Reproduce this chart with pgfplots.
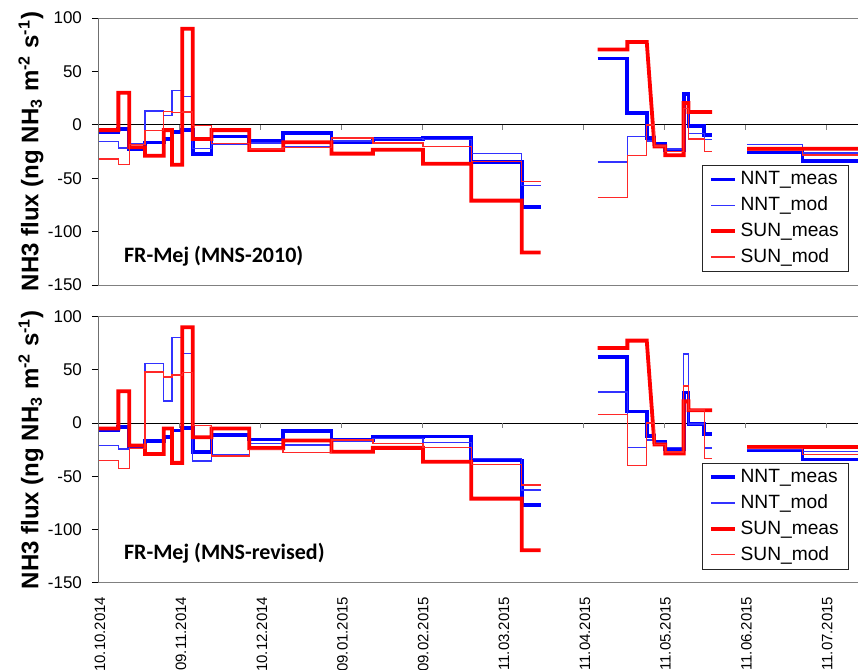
\documentclass[border=0pt]{standalone}
\usepackage{fontspec}
\setmainfont{Liberation Sans}
\newfontfamily\carlito{Carlito}
\usepackage{pgfplots}
\usepackage{pgfplotstable}
\pgfplotsset{compat=1.18}

% measured series (same in both panels)
\pgfplotstableread{
x y
0 -6.8
7.3 -4
11.4 -22.5
17.3 -16.5
24.4 -13.3
27.5 -7
31.4 -4.7
35.3 -27.5
42.4 -11
56.6 -15.5
69.4 -7.7
87.6 -16
103.2 -13.3
122.1 -12.5
140.3 -35.2
159.3 -77
166.4 -77
177 nan
187.9 62
199.1 11
206.4 -12.4
209.3 -18
213.4 -24
220.3 28.8
222.1 -1.2
228.1 -9.9
231 -9.9
238 nan
244.2 -25.8
265.1 -34.2
286 -34.2
}\nntmeas

\pgfplotstableread{
x y
0 -5
7.3 -5
7.3 30
11.4 30
11.4 -21
17.3 -21
17.3 -29
24.4 -29
24.4 -5
27.5 -5
27.5 -37.4
31.4 -37.4
31.4 90
35.3 90
35.3 -13.3
42.4 -13.3
42.4 -5
56.6 -5
56.6 -23.5
69.4 -23.5
69.4 -16.3
87.6 -16.3
87.6 -27
103.2 -27
103.2 -23.3
122.1 -23.3
122.1 -36.4
140.3 -36.4
140.3 -71
159.3 -71
159.3 -119.5
166.4 -119.5
177 nan
187.9 70.5
199.1 70.5
199.1 77.5
206.4 77.5
209.3 -20.2
213.4 -20.2
213.4 -28.5
220.3 -28.5
220.3 20.4
222.1 20.4
222.1 12
231 12
238 nan
244.2 -22.5
286 -22.5
}\sunmeas

% modelled, MNS-2010
\pgfplotstableread{
x y
0 -15.5
7.3 -21.8
11.4 -17.5
17.3 12.8
24.4 8.8
27.5 31.9
31.4 26.3
35.3 -22
42.4 -18.5
56.6 -17
69.4 -20.5
87.6 -15
103.2 -13
122.1 -13.5
140.3 -27
159.3 -57
166.4 -57
177 nan
187.9 -34.7
199.1 -11
206.4 -15
209.3 -20
213.4 -22.5
220.3 15
222.1 -8
228.1 -14
231 -14
238 nan
244.2 -18.3
265.1 -26.4
286 -26.4
}\nntmodA

\pgfplotstableread{
x y
0 -32
7.3 -37.4
11.4 -18.6
17.3 -5.2
24.4 12.6
27.5 11.5
31.4 12
35.3 -0.6
42.4 -17.5
56.6 -22.5
69.4 -21.5
87.6 -12.5
103.2 -17
122.1 -20.2
140.3 -34.3
159.3 -53
166.4 -53
177 nan
187.9 -68
199.1 -29
206.4 0
209.3 -20
213.4 -25
220.3 15
222.1 -13.3
228.1 -25
231 -25
238 nan
244.2 -24
265.1 -28.3
286 -28.3
}\sunmodA

% modelled, MNS-revised
\pgfplotstableread{
x y
0 -21
7.3 -24.5
11.4 -20
17.3 56
24.4 20.7
27.5 80.5
31.4 65.5
35.3 -35.7
42.4 -30
56.6 -19
69.4 -20.4
87.6 -17
103.2 -14.5
122.1 -18.5
140.3 -33.2
159.3 -63
166.4 -63
177 nan
187.9 29.4
199.1 -22.9
206.4 -16
209.3 -18
213.4 -23
220.3 64.8
222.1 -1
228.1 -23.5
231 -23.5
238 nan
244.2 -24.4
265.1 -26.6
286 -26.6
}\nntmodB

\pgfplotstableread{
x y
0 -35.4
7.3 -42.6
11.4 -23.8
17.3 48.2
24.4 43.5
27.5 45.1
31.4 47.3
35.3 -2.5
42.4 -31
56.6 -25
69.4 -27.5
87.6 -16
103.2 -19
122.1 -22.9
140.3 -38.8
159.3 -58.3
166.4 -58.3
177 nan
187.9 8.1
199.1 -40
206.4 0
209.3 -20
213.4 -27
220.3 35
222.1 12.2
228.1 -33.2
231 -33.2
238 nan
244.2 -24
265.1 -29.4
286 -29.4
}\sunmodB

\definecolor{axgray}{RGB}{128,128,128}

\pgfplotsset{
  panel/.style={
    scale only axis, width=379.5pt,
    xmin=0, xmax=286, ymin=-150, ymax=100,
    ytick={-150,-100,-50,0,50,100},
    xtick={0,30.5,61,91.4,121.8,152.2,182.7,213.1,243.6,274},
    axis line style={draw=axgray, line width=0.5pt},
    tick align=outside, ytick pos=left, xtick pos=bottom,
    x tick style={draw=none},
    y tick style={black, line width=0.5pt},
    major tick length=3.5pt,
    yticklabel style={font=\fontsize{8.5}{10}\selectfont, xshift=-1.5pt},
    /pgf/number format/assume math mode=true,
    unbounded coords=jump,
    ylabel={\bfseries NH3 flux (ng NH\textsubscript{3} m\textsuperscript{-2} s\textsuperscript{-1})},
    ylabel style={at={(axis description cs:-0.0896,0.5)}, anchor=center, font=\fontsize{12}{14}\selectfont},
    legend style={at={(0.9885,0.0487)}, anchor=south east, draw=black!85,
      line width=0.5pt, font=\fontsize{9.6}{11.5}\selectfont,
      inner xsep=3pt, inner ysep=1pt, row sep=0.6pt, cells={anchor=west}},
    legend image code/.code={\draw[##1] (0cm,0cm) -- (0.42cm,0cm);},
  },
  measB/.style={line width=1.9pt, line join=miter, draw={rgb,255:red,0;green,0;blue,255}},
  measR/.style={line width=1.9pt, line join=miter, draw={rgb,255:red,255;green,0;blue,0}},
  modB/.style={line width=0.7pt, draw={rgb,255:red,50;green,50;blue,255}},
  modR/.style={line width=0.7pt, draw={rgb,255:red,255;green,40;blue,40}},
}

\begin{document}
\begin{tikzpicture}
\useasboundingbox (-49.5pt,-192.5pt) rectangle (379.5pt,142.5pt);

\begin{axis}[panel, height=133.5pt, at={(0,0)}, anchor=south west, xticklabels={}]
  \draw[black, line width=0.5pt] (axis cs:0,0) -- (axis cs:286,0);
  \pgfplotsinvokeforeach{30.5,61,91.4,121.8,152.2,182.7,213.1,243.6,274}{
    \draw[axgray, line width=0.5pt] (axis cs:#1,0) -- ([yshift=-2.5pt]axis cs:#1,0);
  }
  \addplot[measB, const plot mark left] table[x=x,y=y] {\nntmeas};
  \addplot[modB, const plot mark left] table[x=x,y=y] {\nntmodA};
  \addplot[measR, sharp plot] table[x=x,y=y] {\sunmeas};
  \addplot[modR, const plot mark left] table[x=x,y=y] {\sunmodA};
  \legend{NNT\_meas,NNT\_mod,SUN\_meas,SUN\_mod}
  \draw[black, line width=0.5pt] (rel axis cs:0,0) -- (rel axis cs:0,1);
  \node[anchor=west, font=\carlito\bfseries\fontsize{11}{13}\selectfont] at (rel axis cs:0.0237,0.1086) {FR-Mej (MNS-2010)};
\end{axis}

\begin{axis}[panel, height=133pt, at={(0,-148.85pt)}, anchor=south west,
  xticklabels={10.10.2014,09.11.2014,10.12.2014,09.01.2015,09.02.2015,11.03.2015,11.04.2015,11.05.2015,11.06.2015,11.07.2015},
  xticklabel style={rotate=90, anchor=east, font=\fontsize{7.5}{9}\selectfont, yshift=-0.5pt}]
  \draw[black, line width=0.5pt] (axis cs:0,0) -- (axis cs:286,0);
  \pgfplotsinvokeforeach{30.5,61,91.4,121.8,152.2,182.7,213.1,243.6,274}{
    \draw[axgray, line width=0.5pt] (axis cs:#1,0) -- ([yshift=-2.5pt]axis cs:#1,0);
  }
  \addplot[measB, const plot mark left] table[x=x,y=y] {\nntmeas};
  \addplot[modB, const plot mark left] table[x=x,y=y] {\nntmodB};
  \addplot[measR, sharp plot] table[x=x,y=y] {\sunmeas};
  \addplot[modR, const plot mark left] table[x=x,y=y] {\sunmodB};
  \legend{NNT\_meas,NNT\_mod,SUN\_meas,SUN\_mod}
  \draw[black, line width=0.5pt] (rel axis cs:0,0) -- (rel axis cs:0,1);
  \node[anchor=west, font=\carlito\bfseries\fontsize{11}{13}\selectfont] at (rel axis cs:0.0237,0.1117) {FR-Mej (MNS-revised)};
\end{axis}
\end{tikzpicture}
\end{document}
